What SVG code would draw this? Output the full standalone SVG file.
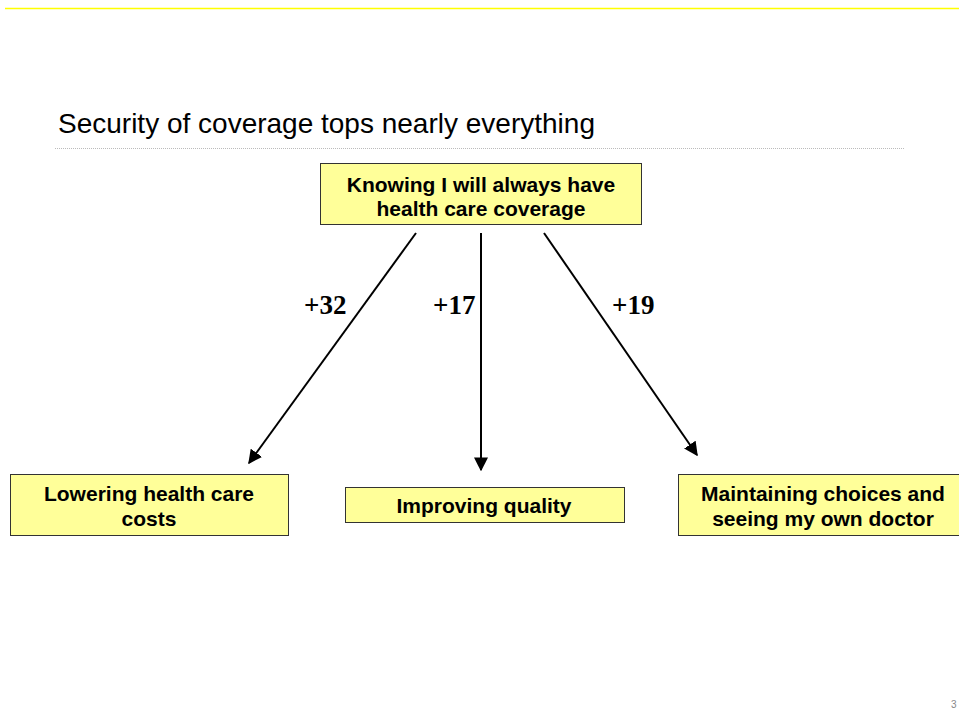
<svg xmlns="http://www.w3.org/2000/svg" width="959" height="721" viewBox="0 0 959 721">
<style>
.box{fill:#ffff99;stroke:#333;stroke-width:1}
.bt{font-family:"Liberation Sans",Arial,sans-serif;font-weight:bold;font-size:21px;fill:#000;text-anchor:middle}
.lbl{font-family:"Liberation Serif","Times New Roman",serif;font-weight:bold;font-size:27px;fill:#000}
</style>
<defs>
<marker id="ah2" viewBox="0 0 10 10" refX="9" refY="5" markerWidth="14" markerHeight="14" markerUnits="userSpaceOnUse" orient="auto">
<path d="M0,0 L10,5 L0,10 z" fill="#000"/>
</marker>
</defs>
<rect width="959" height="721" fill="#fff"/>
<line x1="5" y1="8.5" x2="959" y2="8.5" stroke="#ffff00" stroke-width="1.5"/>
<text x="58" y="133" font-family="'Liberation Sans',Arial,sans-serif" font-size="28" fill="#000">Security of coverage tops nearly everything</text>
<line x1="55" y1="148.5" x2="905" y2="148.5" stroke="#bbb" stroke-width="1" stroke-dasharray="1,1"/>
<g id="connectors">
<line x1="416" y1="233" x2="249" y2="463" stroke="#000" stroke-width="2" marker-end="url(#ah2)"/>
<line x1="481" y1="233" x2="481" y2="470" stroke="#000" stroke-width="2" marker-end="url(#ah2)"/>
<line x1="544" y1="233" x2="697" y2="455" stroke="#000" stroke-width="2" marker-end="url(#ah2)"/>
<text class="lbl" x="304" y="314">+32</text>
<text class="lbl" x="433" y="314">+17</text>
<text class="lbl" x="612" y="314">+19</text>
</g>
<g id="top">
<rect class="box" x="320.5" y="163.5" width="321" height="61"/>
<text class="bt" x="481" y="192">Knowing I will always have</text>
<text class="bt" x="481" y="216">health care coverage</text>
</g>
<g id="left">
<rect class="box" x="10.5" y="474.5" width="278" height="61"/>
<text class="bt" x="149" y="501">Lowering health care</text>
<text class="bt" x="149" y="526">costs</text>
</g>
<g id="middle">
<rect class="box" x="345.5" y="487.5" width="279" height="35"/>
<text class="bt" x="484" y="513">Improving quality</text>
</g>
<g id="right">
<rect class="box" x="678.5" y="474.5" width="290" height="61"/>
<text class="bt" x="823" y="501">Maintaining choices and</text>
<text class="bt" x="823" y="526">seeing my own doctor</text>
</g>
<text x="951" y="708" font-family="'Liberation Sans',Arial,sans-serif" font-size="10" fill="#888">3</text>
</svg>
